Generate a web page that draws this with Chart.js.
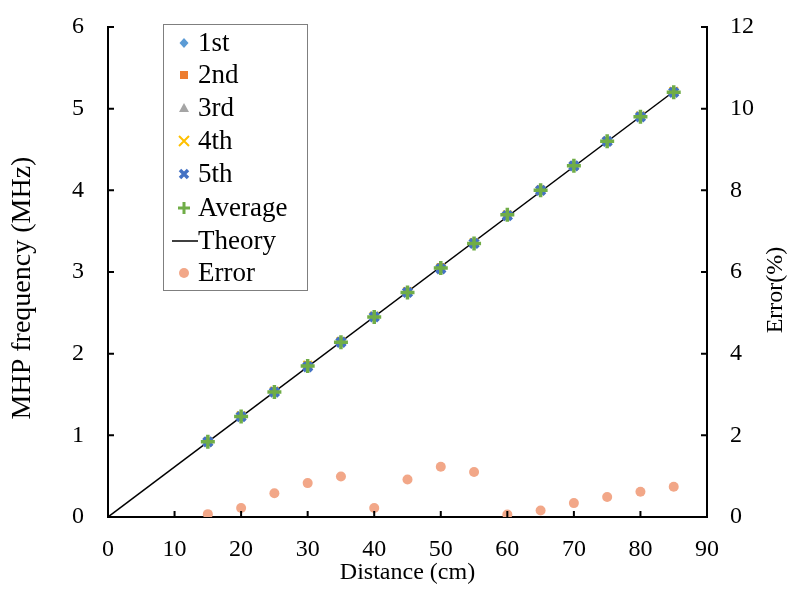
<!DOCTYPE html>
<html>
<head>
<meta charset="utf-8">
<script src="https://cdn.jsdelivr.net/npm/chart.js@4/dist/chart.umd.min.js"></script>
<style>
html,body{margin:0;padding:0;background:#fff;}
#wrap{width:792px;height:596px;position:relative;}
</style>
</head>
<body>
<div id="wrap"><canvas id="c" width="792" height="596"></canvas></div>
<script>
const distances = [15,20,25,30,35,40,45,50,55,60,65,70,75,80,85];
const run1 = [0.92,1.23,1.53,1.84,2.14,2.45,2.75,3.05,3.35,3.70,4.00,4.30,4.60,4.90,5.20];
const run2 = [0.92,1.23,1.54,1.86,2.15,2.46,2.76,3.06,3.36,3.70,4.01,4.30,4.60,4.91,5.21];
const run3 = [0.93,1.24,1.53,1.85,2.14,2.45,2.75,3.05,3.35,3.69,4.00,4.31,4.61,4.90,5.20];
const run4 = [0.92,1.24,1.54,1.86,2.15,2.46,2.76,3.05,3.36,3.70,4.00,4.30,4.60,4.91,5.21];
const run5 = [0.92,1.23,1.53,1.84,2.14,2.45,2.75,3.04,3.35,3.69,4.00,4.30,4.60,4.90,5.20];
const average = [0.92,1.23,1.53,1.85,2.14,2.45,2.75,3.05,3.35,3.70,4.00,4.30,4.60,4.90,5.20];
const theoryX = [0, 85];
const theoryY = [0, 5.21];
const errorPct = [0.07,0.22,0.58,0.83,0.99,0.22,0.92,1.23,1.10,0.06,0.16,0.34,0.49,0.62,0.74];
const legendLabels = ['1st','2nd','3rd','4th','5th','Average','Theory','Error'];
const yTitle = 'MHP frequency (MHz)';
const y2Title = 'Error(%)';
const xTitle = 'Distance (cm)';

const FONT = 'Liberation Serif, Times New Roman, serif';
const pts = (xs, ys) => xs.map((x, i) => ({x: x, y: ys[i]}));

const colors = {
  r1: '#5B9BD5', r2: '#ED7D31', r3: '#A5A5A5', r4: '#FFC000',
  r5: '#4472C4', avg: '#70AD47', err: '#F2A788'
};

const insideTicks = {
  id: 'insideTicks',
  afterDraw(chart) {
    const ctx = chart.ctx;
    const x = chart.scales.x, y = chart.scales.y, y2 = chart.scales.y2;
    const ca = chart.chartArea;
    ctx.save();
    ctx.strokeStyle = '#000';
    ctx.lineWidth = 2;
    ctx.beginPath();
    x.ticks.forEach(t => { const px = x.getPixelForValue(t.value); ctx.moveTo(px, ca.bottom); ctx.lineTo(px, ca.bottom - 6); });
    y.ticks.forEach(t => { const py = y.getPixelForValue(t.value); ctx.moveTo(ca.left, py); ctx.lineTo(ca.left + 6, py); });
    y2.ticks.forEach(t => { const py = y2.getPixelForValue(t.value); ctx.moveTo(ca.right, py); ctx.lineTo(ca.right - 6, py); });
    ctx.stroke();
    ctx.fillStyle = '#000';
    ctx.textAlign = 'center';
    ctx.textBaseline = 'middle';
    ctx.save();
    ctx.font = '28px ' + FONT;
    ctx.translate(23, 288);
    ctx.rotate(-Math.PI / 2);
    ctx.fillText(yTitle, 0, 0);
    ctx.restore();
    ctx.save();
    ctx.font = '24px ' + FONT;
    ctx.translate(776, 290);
    ctx.rotate(-Math.PI / 2);
    ctx.fillText(y2Title, 0, 0);
    ctx.restore();
    ctx.restore();
  }
};

function marker(ctx, kind, cx, cy, color) {
  ctx.save();
  ctx.fillStyle = color; ctx.strokeStyle = color;
  ctx.beginPath();
  if (kind === 'diamond') {
    ctx.moveTo(cx, cy - 5); ctx.lineTo(cx + 4.5, cy); ctx.lineTo(cx, cy + 5); ctx.lineTo(cx - 4.5, cy); ctx.closePath(); ctx.fill();
  } else if (kind === 'square') {
    ctx.fillRect(cx - 4, cy - 4, 8, 8);
  } else if (kind === 'triangle') {
    ctx.moveTo(cx, cy - 5); ctx.lineTo(cx + 5, cy + 4); ctx.lineTo(cx - 5, cy + 4); ctx.closePath(); ctx.fill();
  } else if (kind === 'x') {
    ctx.lineWidth = 2;
    ctx.moveTo(cx - 5, cy - 5); ctx.lineTo(cx + 5, cy + 5); ctx.moveTo(cx + 5, cy - 5); ctx.lineTo(cx - 5, cy + 5); ctx.stroke();
  } else if (kind === 'bowtie') {
    ctx.lineWidth = 3.5;
    ctx.moveTo(cx - 4, cy - 4); ctx.lineTo(cx + 4, cy + 4); ctx.moveTo(cx + 4, cy - 4); ctx.lineTo(cx - 4, cy + 4); ctx.stroke();
  } else if (kind === 'plus') {
    ctx.lineWidth = 3;
    ctx.moveTo(cx - 6, cy); ctx.lineTo(cx + 6, cy); ctx.moveTo(cx, cy - 6); ctx.lineTo(cx, cy + 6); ctx.stroke();
  } else if (kind === 'line') {
    ctx.strokeStyle = '#000'; ctx.lineWidth = 1.5;
    ctx.moveTo(cx - 10, cy); ctx.lineTo(cx + 16, cy); ctx.stroke();
  } else if (kind === 'circle') {
    ctx.arc(cx, cy, 5, 0, Math.PI * 2); ctx.fill();
  }
  ctx.restore();
}

const legendPlugin = {
  id: 'boxLegend',
  afterDraw(chart) {
    const ctx = chart.ctx;
    ctx.save();
    ctx.fillStyle = '#fff';
    ctx.fillRect(163, 24, 144, 266);
    ctx.strokeStyle = '#7f7f7f';
    ctx.lineWidth = 1;
    ctx.strokeRect(163.5, 24.5, 144, 266);
    const kinds = ['diamond','square','triangle','x','bowtie','plus','line','circle'];
    const cols = [colors.r1, colors.r2, colors.r3, colors.r4, colors.r5, colors.avg, '#000', colors.err];
    const rowsY = [43, 75, 108, 141, 174, 208, 241, 273];
    ctx.font = '27px ' + FONT;
    ctx.textBaseline = 'middle';
    ctx.textAlign = 'left';
    legendLabels.forEach((lab, i) => {
      const mx = kinds[i] === 'line' ? 182 : 184;
      marker(ctx, kinds[i], mx, rowsY[i], cols[i]);
      ctx.fillStyle = '#000';
      ctx.fillText(lab, 198, rowsY[i] + 1);
    });
    ctx.restore();
  }
};

const noPadV = s => { s.paddingTop = 0; s.paddingBottom = 0; };

new Chart(document.getElementById('c'), {
  type: 'scatter',
  data: {
    datasets: [
      {label: legendLabels[0], data: pts(distances, run1), pointStyle: 'rectRot', pointRadius: 5, backgroundColor: colors.r1, borderColor: colors.r1, order: 6},
      {label: legendLabels[1], data: pts(distances, run2), pointStyle: 'rect', pointRadius: 5, backgroundColor: colors.r2, borderColor: colors.r2, order: 5},
      {label: legendLabels[2], data: pts(distances, run3), pointStyle: 'triangle', pointRadius: 5, backgroundColor: colors.r3, borderColor: colors.r3, order: 4},
      {label: legendLabels[3], data: pts(distances, run4), pointStyle: 'crossRot', pointRadius: 6, borderWidth: 2, backgroundColor: colors.r4, borderColor: colors.r4, order: 3},
      {label: legendLabels[4], data: pts(distances, run5), pointStyle: 'crossRot', pointRadius: 6, borderWidth: 4, backgroundColor: colors.r5, borderColor: colors.r5, order: 2},
      {label: legendLabels[5], data: pts(distances, average), pointStyle: 'cross', pointRadius: 7, borderWidth: 3.5, backgroundColor: colors.avg, borderColor: colors.avg, order: 1},
      {label: legendLabels[6], data: pts(theoryX, theoryY), showLine: true, pointRadius: 0, borderColor: '#000', borderWidth: 1.5, order: 8},
      {label: legendLabels[7], data: pts(distances, errorPct), yAxisID: 'y2', pointStyle: 'circle', pointRadius: 5, backgroundColor: colors.err, borderColor: colors.err, borderWidth: 0, order: 7}
    ]
  },
  options: {
    responsive: false,
    animation: false,
    events: [],
    layout: {padding: {top: 27, left: 0, right: 0, bottom: 0}},
    plugins: {legend: {display: false}, tooltip: {enabled: false}},
    scales: {
      x: {
        type: 'linear', min: 0, max: 90,
        ticks: {stepSize: 10, color: '#000', font: {family: FONT, size: 24}, padding: 18, maxRotation: 0},
        grid: {display: false, drawTicks: false},
        border: {display: true, color: '#000', width: 2},
        title: {display: true, text: xTitle, color: '#000', font: {family: FONT, size: 24}, padding: {top: 0, bottom: 9}},
        afterFit: s => { s.height = 79; s.paddingLeft = 0; s.paddingRight = 0; }
      },
      y: {
        type: 'linear', position: 'left', min: 0, max: 6,
        ticks: {stepSize: 1, color: '#000', font: {family: FONT, size: 24}, padding: 24},
        grid: {display: false, drawTicks: false},
        border: {display: true, color: '#000', width: 2},
        afterFit: s => { s.width = 108; noPadV(s); }
      },
      y2: {
        type: 'linear', position: 'right', min: 0, max: 12,
        ticks: {stepSize: 2, color: '#000', font: {family: FONT, size: 24}, padding: 23},
        grid: {display: false, drawTicks: false},
        border: {display: true, color: '#000', width: 2},
        afterFit: s => { s.width = 85; noPadV(s); }
      }
    }
  },
  plugins: [insideTicks, legendPlugin]
});
</script>
</body>
</html>
